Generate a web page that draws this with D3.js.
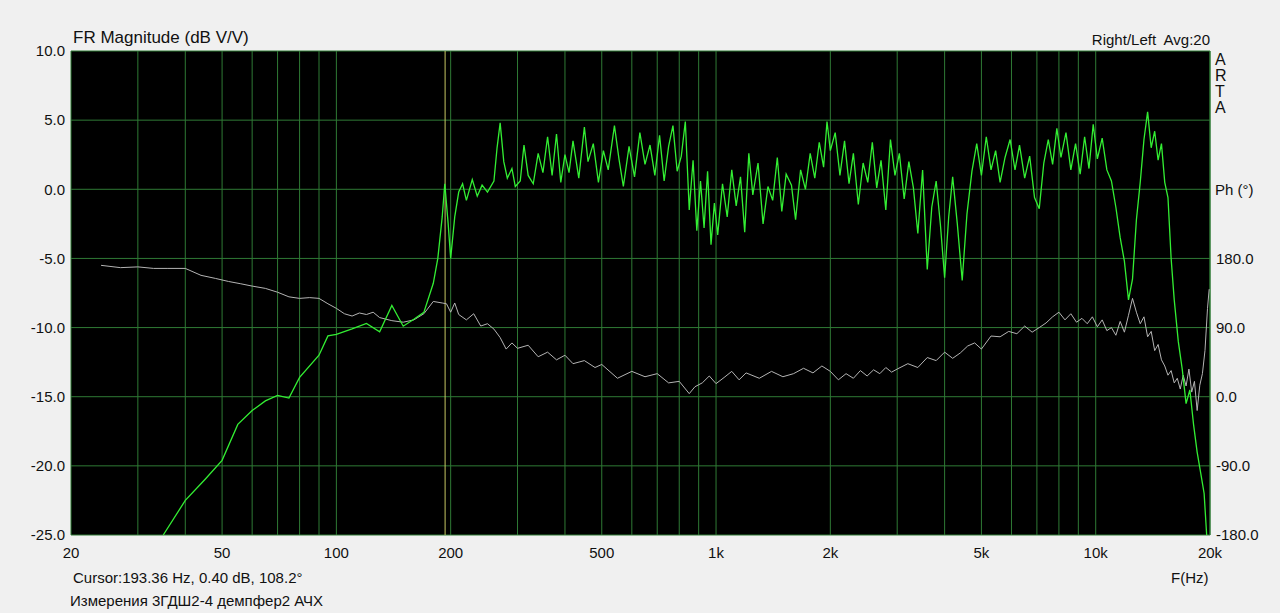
<!DOCTYPE html>
<html>
<head>
<meta charset="utf-8">
<script src="https://cdn.jsdelivr.net/npm/d3@7"></script>
<style>
  body { margin: 0; background: #f0f0f0; }
  svg { display: block; font-family: "Liberation Sans", Arial, sans-serif; }
  text { white-space: pre; }
</style>
</head>
<body>
<svg width="1280" height="613"></svg>
<script>
// magnitude [Hz, dB]
const magnitude = [
  [35, -25], [40, -22.5], [45, -21], [50, -19.6], [55, -17], [60, -16], [65, -15.3], [70, -14.9], [75, -15.1],
  [80, -13.6], [90, -12], [95, -10.6], [100, -10.5], [110, -10.1], [120, -9.7], [130, -10.3], [140, -8.4],
  [150, -9.9], [160, -9.4], [170, -8.9], [180, -6.8], [185, -5], [190, -2], [193, 0.4], [197, -2.5], [200, -5],
  [205, -2], [210, -0.2], [215, 0.4], [220, -0.8], [228, 0.7], [235, -0.5], [242, 0.3], [250, -0.2], [260, 0.6],
  [265, 3], [270, 4.8], [276, 2], [282, 0.8], [290, 1.5], [296, 0.2], [305, 0.6], [312, 3.2], [320, 1],
  [330, 0.4], [340, 2.6], [350, 1.2], [360, 3.8], [370, 1], [380, 4], [390, 0.5], [400, 2.5], [410, 1.2],
  [420, 3.5], [435, 0.8], [450, 4.5], [460, 2], [475, 3.3], [490, 0.5], [505, 2.8], [520, 1.4], [540, 4.6],
  [555, 2.2], [570, 0.2], [590, 3.1], [610, 0.9], [630, 4.1], [650, 1.8], [670, 3.2], [690, 1], [710, 3.9],
  [730, 0.6], [750, 3.1], [770, 4.6], [790, 1.3], [810, 2.4], [830, 4.9], [850, -1.5], [870, 2.1], [890, -3],
  [910, 0.6], [930, -2.8], [950, 1.3], [970, -4], [990, -1], [1010, -3.3], [1040, 0.4], [1070, -2], [1100, 1.4],
  [1130, -1.2], [1160, 0.9], [1190, -3.1], [1220, 2.6], [1250, -0.4], [1290, 1.9], [1330, -2.5], [1370, 0.2],
  [1410, -0.8], [1450, 2.3], [1490, -1.6], [1530, 1.1], [1580, 0.3], [1620, -2.2], [1670, 1.4], [1720, 0],
  [1770, 2.6], [1820, 0.8], [1870, 3.4], [1920, 1.6], [1960, 4.9], [2000, 2.8], [2060, 4.1], [2120, 1],
  [2180, 3.5], [2240, 0.4], [2300, 2.6], [2370, -1.1], [2440, 1.9], [2510, 0.5], [2580, 3.4], [2650, 0.1],
  [2720, 2.1], [2800, -1.5], [2880, 3.6], [2960, 1], [3040, 2.6], [3130, -0.7], [3220, 2], [3310, 0.1],
  [3400, -3.2], [3500, 1.4], [3600, -5.8], [3700, -1.3], [3800, 0.6], [3900, -2.6], [4000, -6.4], [4100, -2],
  [4200, 0.9], [4320, -2.5], [4450, -6.6], [4580, -1.8], [4720, 1.3], [4860, 3.3], [5000, 1], [5150, 3.8],
  [5300, 1.4], [5450, 2.8], [5600, 0.5], [5770, 2.3], [5950, 3.6], [6130, 1.4], [6300, 3.2], [6500, 0.8],
  [6700, 2.4], [6900, -0.6], [7100, -1.4], [7300, 1.9], [7500, 3.6], [7700, 1.8], [7900, 4.4], [8100, 2.3],
  [8350, 4.1], [8600, 1.4], [8850, 3.3], [9100, 1.1], [9350, 3.8], [9600, 1.5], [9850, 4.7], [10100, 2.2],
  [10400, 3.7], [10700, 1.4], [11000, 0.6], [11300, -1.3], [11600, -3.5], [11900, -5.2], [12200, -8],
  [12500, -6.5], [12800, -2.2], [13100, 0.5], [13400, 3.6], [13700, 5.6], [14000, 3], [14300, 4.2], [14600, 2.1],
  [14900, 3.3], [15200, 0.5], [15500, -0.6], [15800, -5], [16100, -8], [16500, -11], [16900, -13], [17300, -15.5],
  [17700, -14.5], [18100, -17], [18500, -19], [18900, -20.5], [19300, -22], [19600, -25]
];

// phase [Hz, degrees]
const phase = [
  [24, 171], [27, 168], [30, 169], [33, 167], [36, 167], [40, 167], [44, 158], [48, 154], [52, 150],
  [56, 147], [60, 144], [65, 141], [70, 136], [75, 130], [80, 128], [85, 129], [90, 128], [95, 121],
  [100, 115], [105, 108], [110, 105], [115, 109], [120, 107], [125, 110], [130, 103], [140, 99], [150, 97],
  [160, 100], [170, 108], [180, 124], [190, 122], [195, 121], [200, 110], [205, 122], [210, 107], [220, 100],
  [230, 108], [240, 92], [250, 95], [260, 88], [270, 77], [280, 62], [290, 70], [300, 63], [320, 67],
  [340, 52], [360, 58], [380, 48], [400, 54], [420, 43], [450, 47], [480, 38], [500, 42], [550, 24],
  [600, 33], [650, 26], [700, 30], [750, 18], [800, 20], [850, 4], [880, 13], [920, 18], [960, 27],
  [1000, 17], [1050, 25], [1100, 33], [1150, 22], [1200, 31], [1300, 24], [1400, 33], [1500, 26],
  [1600, 30], [1700, 37], [1800, 31], [1900, 40], [2000, 33], [2100, 22], [2200, 30], [2300, 24],
  [2400, 34], [2500, 27], [2600, 35], [2700, 30], [2800, 38], [2900, 32], [3000, 36], [3200, 43],
  [3400, 38], [3600, 51], [3800, 47], [4000, 58], [4200, 50], [4400, 57], [4600, 66], [4800, 70],
  [5000, 62], [5300, 79], [5600, 78], [5900, 85], [6200, 82], [6500, 92], [6800, 84], [7100, 90],
  [7400, 96], [7700, 104], [8000, 110], [8300, 100], [8600, 108], [8900, 97], [9200, 102], [9500, 95],
  [9800, 104], [10100, 91], [10400, 100], [10700, 86], [11000, 90], [11300, 80], [11600, 98], [11900, 84],
  [12200, 106], [12500, 128], [12800, 110], [13100, 95], [13400, 104], [13700, 78], [14000, 85],
  [14300, 60], [14600, 68], [14900, 48], [15200, 40], [15500, 28], [15800, 34], [16100, 18], [16400, 24],
  [16700, 10], [17000, 28], [17300, 14], [17600, 36], [17900, 6], [18200, 20], [18500, -18], [18800, 15],
  [19100, 30], [19400, 60], [19700, 115], [19900, 140]
];

const magTicks = [10, 5, 0, -5, -10, -15, -20, -25];
const phaseTicks = [180, 90, 0, -90, -180];
const freqLabels = [[20, '20'], [50, '50'], [100, '100'], [200, '200'], [500, '500'],
  [1000, '1k'], [2000, '2k'], [5000, '5k'], [10000, '10k'], [20000, '20k']];
const cursorHz = 193.36;

const margin = {left: 71, right: 70, top: 51, bottom: 78};
const width = 1280 - margin.left - margin.right;
const height = 613 - margin.top - margin.bottom;

const svg = d3.select('svg');
const g = svg.append('g')
  .attr('transform', 'translate(' + margin.left + ',' + margin.top + ')');

const x = d3.scaleLog().domain([20, 20000]).range([0, width]);
const y = d3.scaleLinear().domain([-25, 10]).range([height, 0]);
const yp = d3.scaleLinear().domain([-180, 450]).range([height, 0]);

g.append('rect').attr('width', width).attr('height', height).attr('fill', '#000');

// grid
const gridColor = '#2f7a35';
let gridFreqs = [];
[10, 100, 1000, 10000].forEach((dec) => {
  for (let k = 1; k < 10; k++) {
    const f = dec * k;
    if (f >= 20 && f <= 20000) gridFreqs.push(f);
  }
});
gridFreqs.push(20000);

g.append('g').selectAll('line').data(gridFreqs).enter().append('line')
  .attr('x1', (d) => x(d)).attr('x2', (d) => x(d))
  .attr('y1', 0).attr('y2', height)
  .attr('stroke', gridColor).attr('stroke-width', 1);

g.append('g').selectAll('line').data(magTicks).enter().append('line')
  .attr('x1', 0).attr('x2', width)
  .attr('y1', (d) => y(d)).attr('y2', (d) => y(d))
  .attr('stroke', gridColor).attr('stroke-width', 1);

// cursor
g.append('line')
  .attr('x1', x(cursorHz)).attr('x2', x(cursorHz))
  .attr('y1', 0).attr('y2', height)
  .attr('stroke', '#c8c864').attr('stroke-width', 1);

// curves
g.append('path').datum(phase)
  .attr('fill', 'none').attr('stroke', '#b4b4b4').attr('stroke-width', 1)
  .attr('d', d3.line().x((d) => x(d[0])).y((d) => yp(d[1])));

g.append('path').datum(magnitude)
  .attr('fill', 'none').attr('stroke', '#33ee33').attr('stroke-width', 1.3)
  .attr('d', d3.line().x((d) => x(d[0])).y((d) => y(d[1])));

// axes labels
const txt = '#111';
g.append('g').selectAll('text').data(magTicks).enter().append('text')
  .attr('x', -6).attr('y', (d) => y(d)).attr('dy', '0.35em')
  .attr('text-anchor', 'end').attr('font-size', 15).attr('fill', txt)
  .text((d) => d.toFixed(1));

g.append('g').selectAll('text').data(phaseTicks).enter().append('text')
  .attr('x', width + 6).attr('y', (d) => yp(d)).attr('dy', '0.35em')
  .attr('text-anchor', 'start').attr('font-size', 15).attr('fill', txt)
  .text((d) => d.toFixed(1));

g.append('g').selectAll('text').data(freqLabels).enter().append('text')
  .attr('x', (d) => x(d[0])).attr('y', height + 23)
  .attr('text-anchor', 'middle').attr('font-size', 15).attr('fill', txt)
  .text((d) => d[1]);

g.append('text').attr('x', 2).attr('y', -8).attr('font-size', 17).attr('fill', txt)
  .text('FR Magnitude (dB V/V)');
g.append('text').attr('x', width).attr('y', -6).attr('text-anchor', 'end')
  .attr('font-size', 15).attr('fill', txt).text('Right/Left  Avg:20');
['A', 'R', 'T', 'A'].forEach((c, i) => {
  g.append('text').attr('x', width + 5).attr('y', 14 + i * 16)
    .attr('font-size', 16).attr('fill', txt).text(c);
});
g.append('text').attr('x', width + 5).attr('y', y(0)).attr('dy', '0.35em')
  .attr('font-size', 15).attr('fill', txt).text('Ph (°)');
g.append('text').attr('x', width - 39).attr('y', height + 48)
  .attr('font-size', 15).attr('fill', txt).text('F(Hz)');
g.append('text').attr('x', 2).attr('y', height + 48)
  .attr('font-size', 15).attr('fill', txt).text('Cursor:193.36 Hz, 0.40 dB, 108.2°');
g.append('text').attr('x', -1).attr('y', height + 71)
  .attr('font-size', 15).attr('fill', txt).text('Измерения 3ГДШ2-4 демпфер2 АЧХ');
</script>
</body>
</html>
